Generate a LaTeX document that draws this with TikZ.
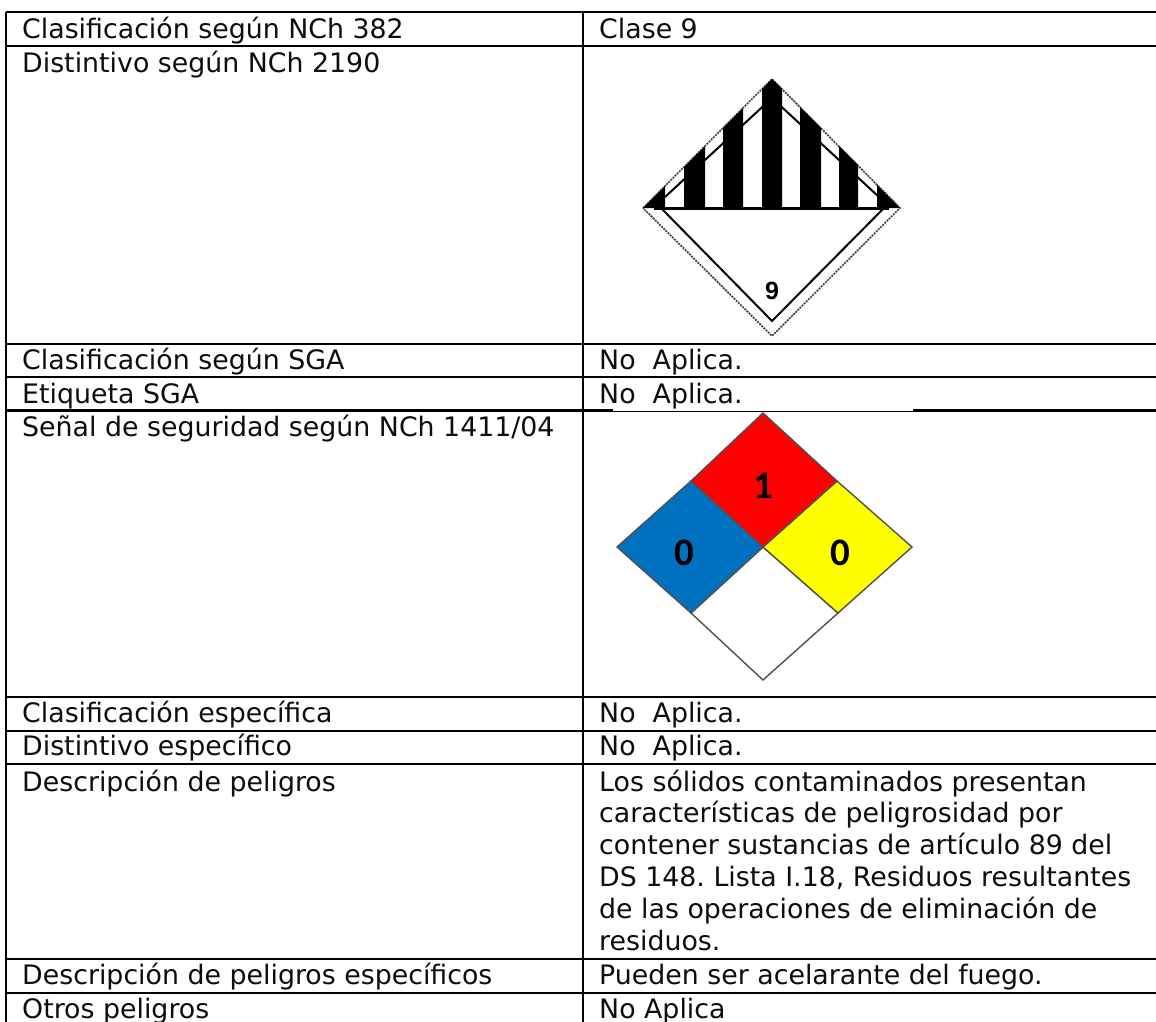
\documentclass[tikz,border=0pt]{standalone}
\usepackage{fontspec}
\setmainfont{DejaVu Sans}
\newfontfamily\digitfont{Carlito}
\newfontfamily\ninefont{Liberation Sans}
\frenchspacing
\definecolor{nfblue}{HTML}{0070C0}
\definecolor{nfyellow}{HTML}{FFFF00}
\definecolor{nfred}{HTML}{FF0000}
\definecolor{nfgrey}{HTML}{505050}
\tikzset{
 x=1pt,y=-1pt,
 rule/.style={line width=2.3pt,black},
 cell/.style={anchor=base west,inner sep=0pt,text=black!95,font=\fontsize{26.8}{31.8}\selectfont},
 nf/.style={draw=nfgrey,line width=1.4pt,line join=miter},
 digit/.style={inner sep=0pt,font=\digitfont\bfseries\fontsize{39}{40}\selectfont},
 hz/.style={fill=black},
 thin9/.style={draw=black,line width=2pt},
 dash9/.style={draw=black!75,line width=1.7pt,dash pattern=on 2pt off 1pt},
}
\begin{document}
\begin{tikzpicture}
\useasboundingbox (0,0) rectangle (1156,1022);
\fill[white] (0,0) rectangle (1156,1022);
% table rules
\coordinate (tl) at (6,12); \coordinate (tr) at (1156,12);
\coordinate (bl) at (6,1022); \coordinate (mt) at (583,12); \coordinate (mb) at (583,1022);
\draw[rule] (tl) -- (tr);
\draw[rule] (tl) -- (bl);
\draw[rule] (mt) -- (mb);
\foreach \y in {46,344,377,410.5,697,731,764,959,993}{
 \draw[rule] (6,\y) -- (1156,\y);
}
\fill[white] (613,409.3) rectangle (913,410.7);
% texts
\node[cell] (a1) at (22,38.5) {Clasificación según NCh 382};
\node[cell] (b1) at (599,38.5) {Clase 9};
\node[cell] (a2) at (22,72.5) {Distintivo según NCh 2190};
\node[cell] (a3) at (22,369) {Clasificación según SGA};
\node[cell] (b3) at (599,369) {No\ \ Aplica.};
\node[cell] (a4) at (22,403) {Etiqueta SGA};
\node[cell] (b4) at (599,403) {No\ \ Aplica.};
\node[cell] (a5) at (22,436.5) {Señal de seguridad según NCh 1411/04};
\node[cell] (a6) at (22,722) {Clasificación específica};
\node[cell] (b6) at (599,722) {No\ \ Aplica.};
\node[cell] (a7) at (22,755) {Distintivo específico};
\node[cell] (b7) at (599,755) {No\ \ Aplica.};
\node[cell] (a8) at (22,791) {Descripción de peligros};
\node[cell] (b8a) at (599,791) {Los sólidos contaminados presentan};
\node[cell] (b8b) at (599,822.8) {características de peligrosidad por};
\node[cell] (b8c) at (599,854.6) {contener sustancias de artículo 89 del};
\node[cell] (b8d) at (599,886.4) {DS 148. Lista I.18, Residuos resultantes};
\node[cell] (b8e) at (599,918.2) {de las operaciones de eliminación de};
\node[cell] (b8f) at (599,950) {residuos.};
\node[cell] (a9) at (22,984) {Descripción de peligros específicos};
\node[cell] (b9) at (599,984) {Pueden ser acelarante del fuego.};
\node[cell] (a10) at (22,1018) {Otros peligros};
\node[cell] (b10) at (599,1018) {No Aplica};
% class 9 placard
\draw[dash9] (643,208) -- (772,79) -- (900,208) -- (772,336) -- cycle;
\draw[thin9] (662,209) -- (772,321) -- (883,209);
\draw[line width=2.4pt] (654,208.5) -- (889,208.5);
\draw[thin9] (665,197) -- (772,98) -- (879,197);
\fill[hz] (643,208) -- (665,186) -- (665,208) -- cycle;
\fill[hz] (684,167) -- (705,146) -- (705,208) -- (684,208) -- cycle;
\fill[hz] (723,128) -- (743,108) -- (743,208) -- (723,208) -- cycle;
\fill[hz] (762,89) -- (772,79) -- (782,89) -- (782,208) -- (762,208) -- cycle;
\fill[hz] (800,107) -- (821,128) -- (821,208) -- (800,208) -- cycle;
\fill[hz] (839,146) -- (858,165) -- (858,208) -- (839,208) -- cycle;
\fill[hz] (877,185) -- (900,208) -- (877,208) -- cycle;
\node[inner sep=0pt,font=\ninefont\bfseries\fontsize{25}{26}\selectfont] (nine) at (772,291) {9};
% NFPA diamond
\coordinate (T) at (763,413); \coordinate (R) at (912,547); \coordinate (B) at (763,680); \coordinate (L) at (617,547);
\coordinate (C) at (763,547); \coordinate (TL) at (691,481); \coordinate (TR) at (837,481);
\coordinate (BL) at (691,613); \coordinate (BR) at (838,613);
\draw[nf,fill=white] (C) -- (BR) -- (B) -- (BL) -- cycle;
\draw[nf,fill=nfblue] (L) -- (TL) -- (C) -- (BL) -- cycle;
\draw[nf,fill=nfyellow] (C) -- (TR) -- (R) -- (BR) -- cycle;
\draw[nf,fill=nfred] (T) -- (TR) -- (C) -- (TL) -- cycle;
\node[digit] (n1) at (763,486) {1};
\node[digit] (n2) at (684,553) {0};
\node[digit] (n3) at (840,553) {0};
\end{tikzpicture}
\end{document}
